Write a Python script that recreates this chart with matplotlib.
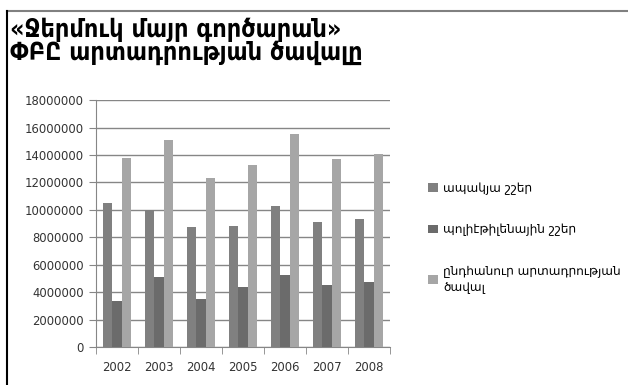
import matplotlib.pyplot as plt
import numpy as np
from matplotlib.ticker import MultipleLocator, FuncFormatter
from matplotlib.lines import Line2D

# Data
years = ['2002', '2003', '2004', '2005', '2006', '2007', '2008']
glass = [10480000, 9990000, 8750000, 8830000, 10280000, 9120000, 9340000]
poly = [3370000, 5120000, 3520000, 4390000, 5260000, 4530000, 4750000]
total = [13750000, 15090000, 12320000, 13270000, 15520000, 13700000, 14050000]
labels = ['ապակյա շշեր', 'պոլիէթիլենային շշեր', 'ընդհանուր արտադրության\nծավալ']
colors = ['#808080', '#6b6b6b', '#a6a6a6']
title = '«Ջերմուկ մայր գործարան»\nՓԲԸ արտադրության ծավալը'

fig = plt.figure(figsize=(6.28, 3.85), dpi=100)
ax = fig.add_axes([0.153, 0.098, 0.468, 0.642])

x = np.arange(len(years))
w = 1 / 4.5
for i, (vals, c) in enumerate(zip([glass, poly, total], colors)):
    ax.bar(x + (i - 1) * w, vals, width=w, color=c, label=labels[i], zorder=3)

ax.set_xlim(-0.5, len(years) - 0.5)
ax.set_ylim(0, 18000000)
ax.yaxis.set_major_locator(MultipleLocator(2000000))
ax.yaxis.set_major_formatter(FuncFormatter(lambda v, p: f'{int(v)}'))
ax.set_xticks(x)
ax.set_xticklabels(years)
ax.set_xticks(np.arange(len(years) + 1) - 0.5, minor=True)
ax.tick_params(axis='x', which='major', length=0, pad=10)
ax.tick_params(axis='x', which='minor', length=5, color='#868686')
ax.tick_params(axis='y', length=5, color='#868686', pad=4)
ax.tick_params(labelsize=8.4, labelcolor='#333333')
ax.grid(axis='y', color='#868686', linewidth=1, zorder=0)
for s in ['top', 'right']:
    ax.spines[s].set_visible(False)
for s in ['left', 'bottom']:
    ax.spines[s].set_color('#868686')

leg = ax.legend(loc='upper left', bbox_to_anchor=(0.665, 0.556), bbox_transform=fig.transFigure,
                frameon=False, fontsize=8.7, handlelength=0.75, handleheight=0.75,
                handletextpad=0.45, labelspacing=2.35)

fig.text(0.016, 0.955, title, ha='left', va='top', fontsize=18, fontweight='bold',
         family=['DejaVu Sans Condensed', 'DejaVu Sans'], fontstretch='condensed',
         linespacing=0.95)

# frame lines
fig.add_artist(Line2D([0.011, 1], [0.972, 0.972], color='#808080', linewidth=1.5))
fig.add_artist(Line2D([0.011, 0.011], [0, 0.972], color='black', linewidth=1.5))

fig.savefig('out.png', dpi=100)
